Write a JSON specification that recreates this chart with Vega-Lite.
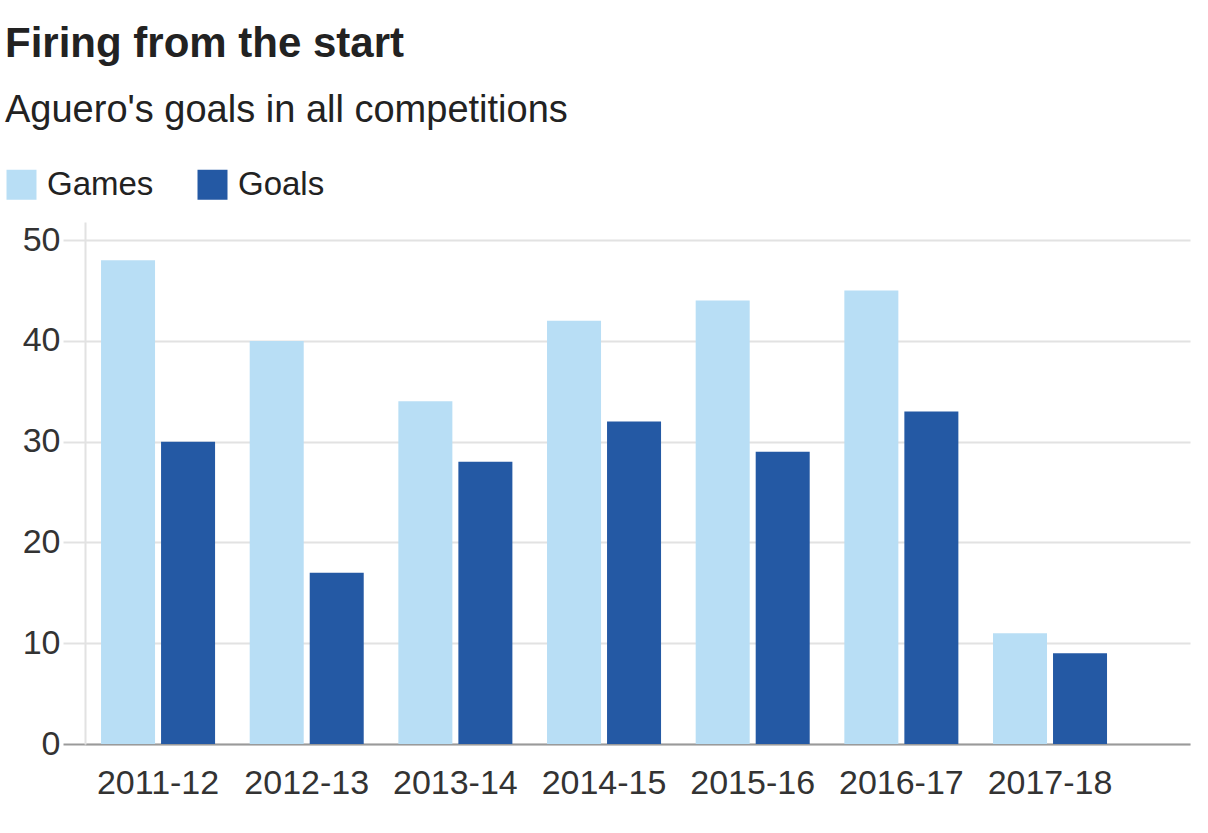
{
  "$schema": "https://vega.github.io/schema/vega-lite/v6.json",
  "autosize": {"type": "none"},
  "width": 1105,
  "height": 522,
  "padding": {"left": 85, "top": 222, "right": 18, "bottom": 89},
  "background": "#ffffff",
  "title": {
    "text": "Firing from the start",
    "subtitle": "Aguero's goals in all competitions",
    "anchor": "start",
    "frame": "group",
    "dx": -80,
    "offset": 37,
    "font": "Liberation Sans",
    "fontSize": 42,
    "fontWeight": "bold",
    "color": "#222222",
    "subtitleFont": "Liberation Sans",
    "subtitleFontSize": 38,
    "subtitleColor": "#222222",
    "subtitlePadding": 26
  },
  "data": {
    "values": [
      {"season": "2011-12", "type": "Games", "value": 48},
      {"season": "2011-12", "type": "Goals", "value": 30},
      {"season": "2012-13", "type": "Games", "value": 40},
      {"season": "2012-13", "type": "Goals", "value": 17},
      {"season": "2013-14", "type": "Games", "value": 34},
      {"season": "2013-14", "type": "Goals", "value": 28},
      {"season": "2014-15", "type": "Games", "value": 42},
      {"season": "2014-15", "type": "Goals", "value": 32},
      {"season": "2015-16", "type": "Games", "value": 44},
      {"season": "2015-16", "type": "Goals", "value": 29},
      {"season": "2016-17", "type": "Games", "value": 45},
      {"season": "2016-17", "type": "Goals", "value": 33},
      {"season": "2017-18", "type": "Games", "value": 11},
      {"season": "2017-18", "type": "Goals", "value": 9}
    ]
  },
  "mark": {"type": "bar"},
  "encoding": {
    "x": {
      "field": "season",
      "type": "nominal",
      "sort": null,
      "scale": {"paddingInner": 0.233, "paddingOuter": 0.333, "align": 0.162},
      "axis": {
        "title": null,
        "labelAngle": 0,
        "labelFont": "Liberation Sans",
        "labelFontSize": 34,
        "labelColor": "#333333",
        "labelPadding": 22,
        "ticks": false,
        "domainColor": "#9a9a9a",
        "domainWidth": 2,
        "labelOverlap": false
      }
    },
    "xOffset": {
      "field": "type",
      "type": "nominal",
      "scale": {"paddingInner": 0.1, "paddingOuter": 0}
    },
    "y": {
      "field": "value",
      "type": "quantitative",
      "scale": {"domain": [0, 51.8], "nice": false},
      "axis": {
        "title": null,
        "values": [0, 10, 20, 30, 40, 50],
        "labelFont": "Liberation Sans",
        "labelFontSize": 34,
        "labelColor": "#333333",
        "labelPadding": 3,
        "tickSize": 22,
        "tickColor": {"condition": {"test": "datum.value === 0", "value": "#9a9a9a"}, "value": "#e2e2e2"},
        "tickWidth": 2,
        "gridColor": "#e2e2e2",
        "gridWidth": 2,
        "domainColor": "#e2e2e2",
        "domainWidth": 2
      }
    },
    "color": {
      "field": "type",
      "type": "nominal",
      "scale": {"domain": ["Games", "Goals"], "range": ["#b8def5", "#2459a4"]},
      "legend": {
        "title": null,
        "orient": "none",
        "legendX": -80,
        "legendY": -54,
        "direction": "horizontal",
        "symbolType": "square",
        "symbolSize": 900,
        "symbolStrokeWidth": 0,
        "symbolOpacity": 1,
        "labelFont": "Liberation Sans",
        "labelFontSize": 33,
        "labelColor": "#222222",
        "labelOffset": 9,
        "columnPadding": 42
      }
    }
  },
  "config": {"view": {"stroke": null}}
}
